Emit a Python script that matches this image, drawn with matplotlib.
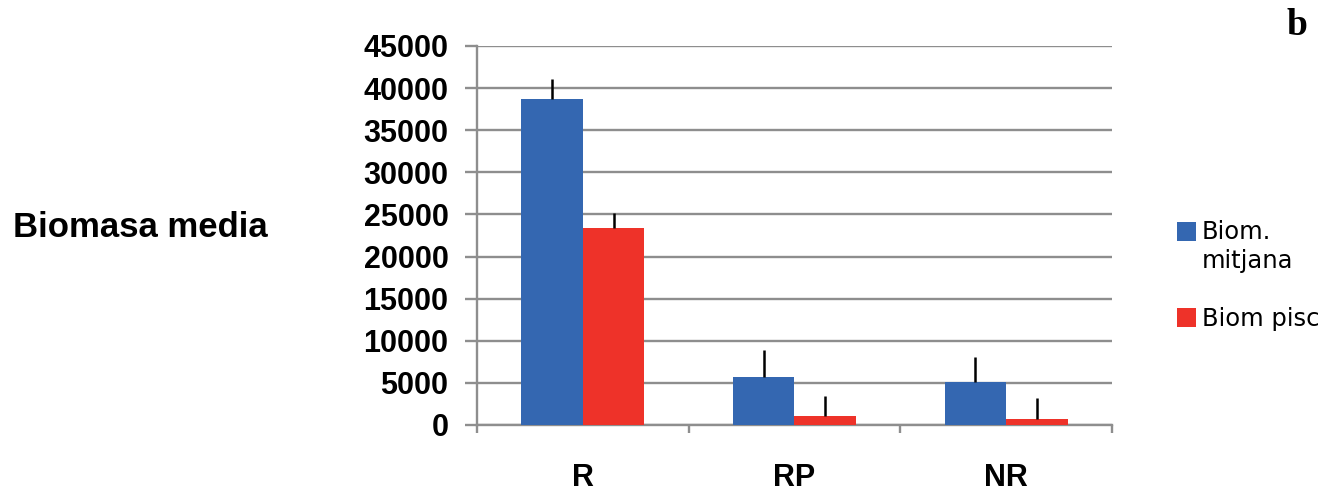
import matplotlib
matplotlib.use("Agg")
import matplotlib.pyplot as plt
from matplotlib.patches import Rectangle
import numpy as np

categories = ["R", "RP", "NR"]
biom_mitjana = [38700, 5650, 5050]
biom_mitjana_err = [2400, 3250, 3050]
biom_pisc = [23350, 1050, 750]
biom_pisc_err = [1800, 2450, 2500]
series_labels = ["Biom.\nmitjana", "Biom pisc"]
yticks = [0, 5000, 10000, 15000, 20000, 25000, 30000, 35000, 40000, 45000]

plt.rcParams['font.family'] = ['Liberation Sans', 'DejaVu Sans']

W, H = 1340, 493
fig = plt.figure(figsize=(W / 100, H / 100), dpi=100)
ax = fig.add_axes([477 / W, 1 - 425 / H, (1112 - 477) / W, (425 - 46) / H])

grid_c = "#8e8e8e"
blue = "#3467b1"
red = "#ee3229"
colors = [blue, red]
x = np.arange(len(categories))
bw = 0.29

ax.bar(x - bw / 2, biom_mitjana, bw, color=blue, zorder=3)
ax.bar(x + bw / 2, biom_pisc, bw, color=red, zorder=3)
ax.errorbar(x - bw / 2, biom_mitjana, yerr=[np.zeros(3), biom_mitjana_err], fmt='none',
            ecolor='black', elinewidth=1.8, capsize=0, zorder=4)
ax.errorbar(x + bw / 2, biom_pisc, yerr=[np.zeros(3), biom_pisc_err], fmt='none',
            ecolor='black', elinewidth=1.8, capsize=0, zorder=4)

ax.set_xlim(-0.5, 2.5)
ax.set_ylim(0, 45000)
ax.set_yticks(yticks)
ax.set_yticklabels([str(v) for v in yticks], fontweight='bold', fontsize=22)
ax.yaxis.grid(True, color=grid_c, linewidth=1.7, zorder=0)
ax.set_axisbelow(True)

ax.set_xticks(x)
ax.set_xticklabels(categories, fontweight='bold', fontsize=22)
ax.set_xticks([-0.5, 0.5, 1.5, 2.5], minor=True)
ax.tick_params(axis='x', which='major', length=0, pad=27)
ax.tick_params(axis='x', which='minor', length=6, width=1.7, color=grid_c, direction='out')
ax.tick_params(axis='y', length=8.6, width=1.7, color=grid_c, direction='out', pad=12)

for s in ['top', 'right']:
    ax.spines[s].set_visible(False)
for s in ['left', 'bottom']:
    ax.spines[s].set_color(grid_c)
    ax.spines[s].set_linewidth(1.7)

fig.text(13 / W, 1 - 237 / H, "Biomasa media", fontsize=25, fontweight='bold',
         ha='left', va='baseline')
fig.text(1297 / W, 1 - 35 / H, "b", fontsize=27, fontweight='bold',
         family=['Liberation Serif', 'DejaVu Serif'], ha='center', va='baseline')

# legend drawn manually
sq_x, sq_w = 1177, 19
sq_tops = [222, 308]
label_baselines = [239, 326]
for c, top, lab, base in zip(colors, sq_tops, series_labels, label_baselines):
    fig.add_artist(Rectangle((sq_x / W, 1 - (top + sq_w) / H), sq_w / W, sq_w / H,
                             transform=fig.transFigure, facecolor=c, edgecolor='none'))
    lines = lab.split("\n")
    for i, ln in enumerate(lines):
        fig.text(1202 / W, 1 - (base + 29 * i) / H, ln, fontsize=17.5,
                 family=['DejaVu Sans'], ha='left', va='baseline')

fig.savefig("out.png", dpi=100)
